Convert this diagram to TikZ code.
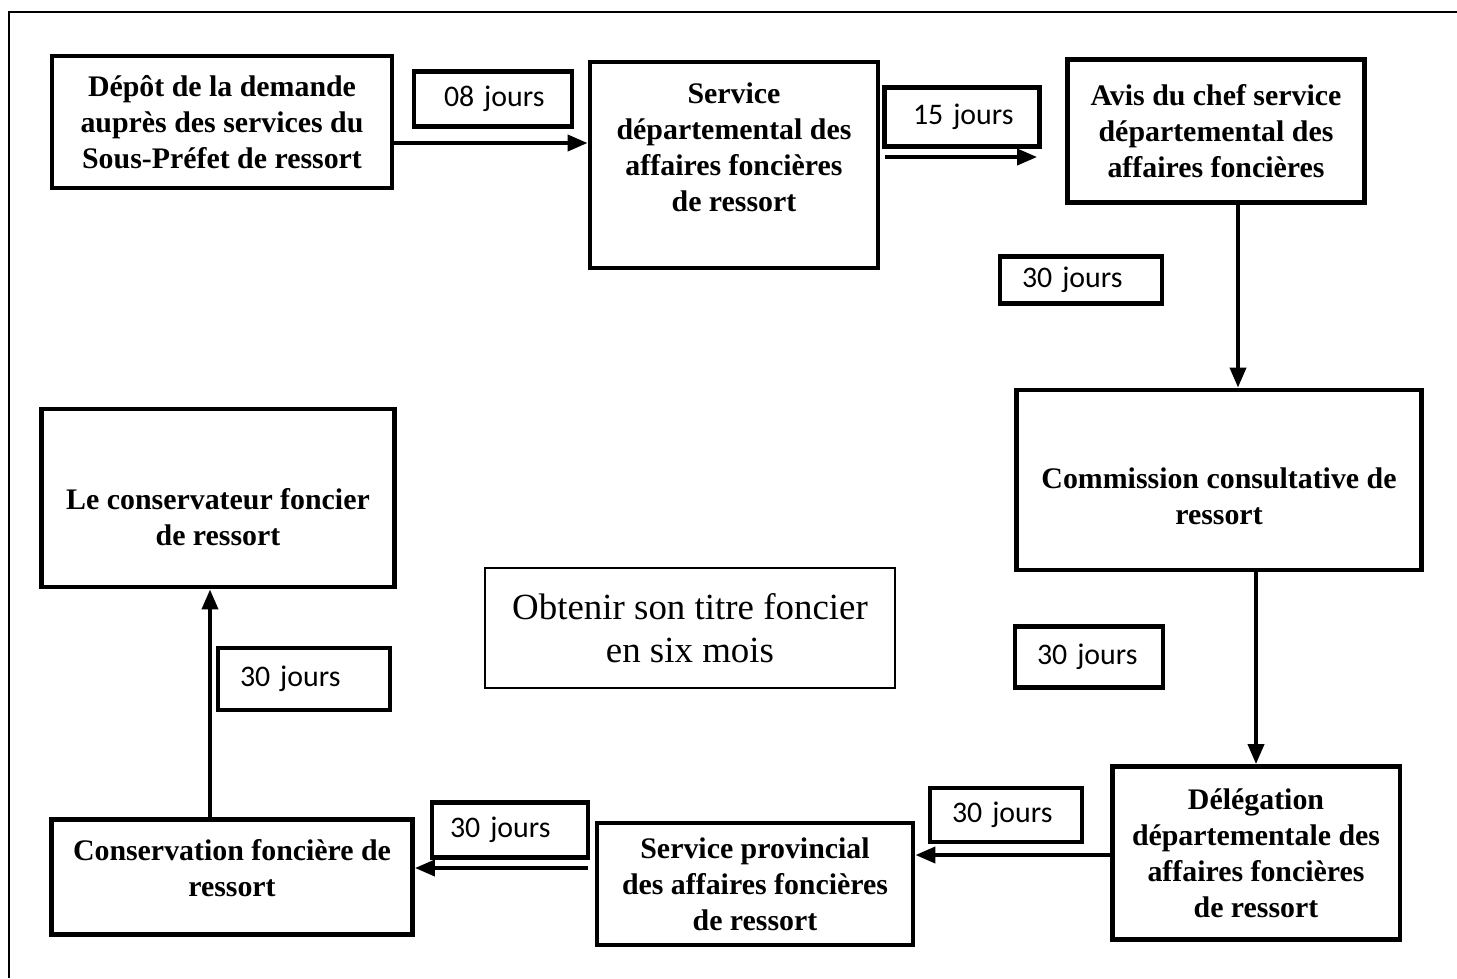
\documentclass[tikz,border=0pt]{standalone}
\usepackage{fontspec}
\setmainfont{Liberation Serif}
\newfontfamily\daysfont{Carlito}
\usetikzlibrary{arrows.meta}

\begin{document}
\begin{tikzpicture}
  [x=0.02cm, y=-0.02cm,
   stepN/.style={draw,line width=2.8pt,align=center,inner sep=0pt,
     font=\bfseries\fontsize{17}{20.5}\selectfont},
   daysN/.style={draw,line width=2.6pt,align=left,inner xsep=0.44cm,inner ysep=0pt,
     font=\daysfont\fontsize{17}{20}\selectfont},
   titleN/.style={draw,line width=1.6pt,align=center,inner sep=0pt,
     font=\fontsize{21}{24.5}\selectfont},
   flow/.style={line width=2.2pt,-{Triangle[length=0.4cm,width=0.32cm]}}]

  \useasboundingbox (0,0) rectangle (1457,978);
  \draw [line width=1pt] (1457,12) -- (9,12) -- (9,978);

  % les etapes
  \node[stepN,minimum width=6.8cm,minimum height=2.64cm] (depot) at (222,122)
    {Dépôt de la demande\\auprès des services du\\Sous-Préfet de ressort};
  \node[stepN,minimum width=5.76cm,minimum height=4.12cm] (servDep) at (734,165)
    {Service\\départemental des\\affaires foncières\\de ressort\rule[-0.72cm]{0pt}{0.72cm}};
  \node[stepN,minimum width=5.94cm,minimum height=2.86cm] (avis) at (1216,131)
    {Avis du chef service\\départemental des\\affaires foncières};
  \node[stepN,minimum width=8.1cm,minimum height=3.6cm] (commission) at (1219,480)
    {\rule{0pt}{1.08cm}Commission consultative de\\ressort};
  \node[stepN,minimum width=5.76cm,minimum height=3.46cm] (delegation) at (1256,853)
    {Délégation\\départementale des\\affaires foncières\\de ressort};
  \node[stepN,minimum width=6.32cm,minimum height=2.44cm] (servProv) at (755,884)
    {Service provincial\\des affaires foncières\\de ressort};
  \node[stepN,minimum width=7.22cm,minimum height=2.3cm] (conservation) at (232,877)
    {Conservation foncière de\\ressort\rule[-0.36cm]{0pt}{0.36cm}};
  \node[stepN,minimum width=7.06cm,minimum height=3.56cm] (conservateur) at (218,498)
    {\rule{0pt}{1.2cm}Le conservateur foncier\\de ressort};

  \node[titleN,minimum width=8.2cm,minimum height=2.4cm] (titre) at (690,628)
    {Obtenir son titre foncier\\en six mois};

  % les delais
  \node[daysN,inner xsep=0.48cm,text width=2.2cm,minimum height=1.1cm] (d8) at (493,99) {\hspace{0.12cm}08 jours};
  \node[daysN,inner xsep=0.45cm,text width=2.2cm,minimum height=1.18cm] (d15) at (962,117) {\hspace{0.12cm}15 jours};
  \node[daysN,text width=2.36cm,minimum height=0.94cm] (d30a) at (1081,280) {30 jours};
  \node[daysN,text width=2.08cm,minimum height=1.22cm] (d30b) at (1089,657) {30 jours};
  \node[daysN,text width=2.16cm,minimum height=1.08cm] (d30c) at (1006,815) {30 jours};
  \node[daysN,inner xsep=0.36cm,text width=2.4cm,minimum height=1.1cm] (d30d) at (510,830) {30 jours};
  \node[daysN,text width=2.56cm,minimum height=1.24cm] (d30e) at (304,679) {30 jours};

  \draw [flow] (depot.east |- 0,143) -- (servDep.west |- 0,143);
  \draw [flow,shorten <=0.1cm,shorten >=0.56cm] (servDep.east |- 0,157) -- (avis.west |- 0,157);
  \draw [flow] (avis.south -| 1238,0) -- (commission.north -| 1238,0);
  \draw [flow] (delegation.north |- commission.south) -- (delegation.north);
  \draw [flow] (delegation.west |- 0,855) -- (servProv.east |- 0,855);
  \draw [flow,shorten <=0.14cm] (servProv.west |- 0,868) -- (conservation.east |- 0,868);
  \draw [flow] (conservation.north -| 210,0) -- (conservateur.south -| 210,0);

\end{tikzpicture}
\end{document}
